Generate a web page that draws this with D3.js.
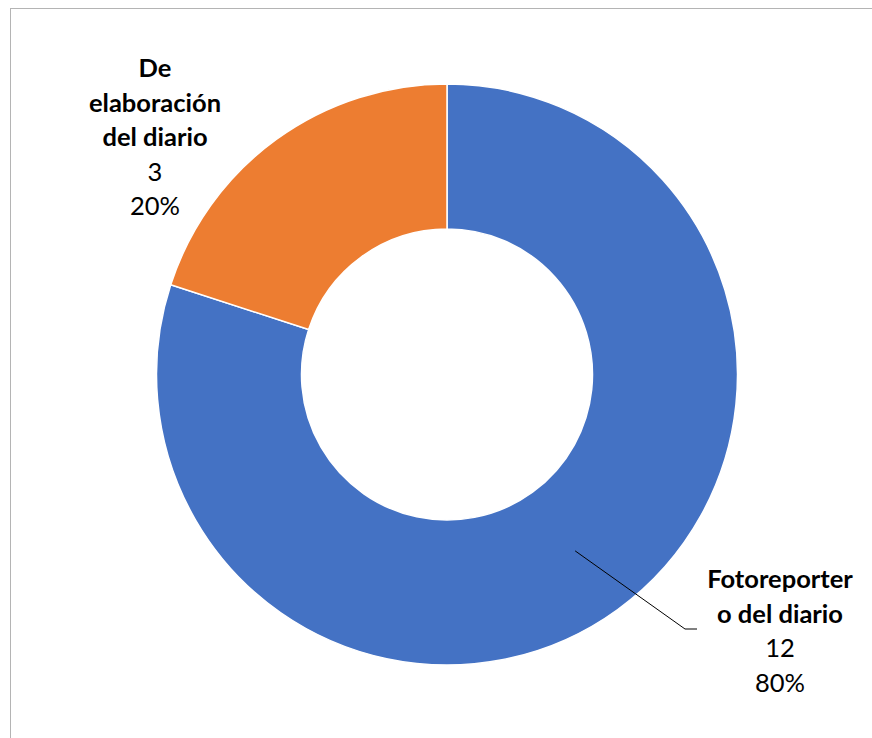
<!DOCTYPE html>
<html>
<head>
<meta charset="utf-8">
<script src="https://cdn.jsdelivr.net/npm/d3@7"></script>
<style>
  html, body { margin: 0; padding: 0; background: #fff; }
  svg { display: block; }
</style>
</head>
<body>
<svg id="chart" width="872" height="738"></svg>
<script>
// Origen de las fotografías
const categories = ["Fotoreporter\no del diario", "De\nelaboración\ndel diario"];
const values = [12, 3];
const colors = ["#4472C4", "#ED7D31"];

const W = 872, H = 738;
const cx = 447, cy = 374.5;
const outerR = 290.5, innerR = 145.5;
const fontFamily = "Lato, 'Open Sans', 'Liberation Sans', sans-serif";
const fontSize = 25.5;
const lineH = 34.5;

const svg = d3.select("#chart");

// chart area frame
svg.append("rect")
  .attr("x", 10.5).attr("y", 8.5)
  .attr("width", W + 20).attr("height", H + 20)
  .attr("fill", "none")
  .attr("stroke", "#b4b4b4")
  .attr("stroke-width", 1);

const data = categories.map((c, i) => ({ name: c, value: values[i], color: colors[i] }));
const total = d3.sum(values);

const pie = d3.pie().value(d => d.value).sort(null);
const arc = d3.arc().innerRadius(innerR).outerRadius(outerR);
const arcs = pie(data);

const g = svg.append("g").attr("transform", `translate(${cx},${cy})`);

g.selectAll("path.slice")
  .data(arcs)
  .join("path")
  .attr("class", "slice")
  .attr("d", arc)
  .attr("fill", d => d.data.color)
  .attr("stroke", "#fff")
  .attr("stroke-width", 1.5);

// label placement per slice (label anchor in page coords, first baseline)
const labelPos = [
  { x: 780, y: 588, leader: [[685, 629], [697, 629]] },
  { x: 155, y: 77, leader: null }
];

arcs.forEach((a, i) => {
  const p = labelPos[i];
  const lines = a.data.name.split("\n");
  const pct = d3.format(".0%")(a.data.value / total);
  const t = svg.append("text")
    .attr("text-anchor", "middle")
    .attr("font-family", fontFamily)
    .attr("font-size", fontSize)
    .attr("fill", "#000");
  lines.forEach((ln, k) => {
    t.append("tspan").attr("x", p.x).attr("y", p.y + k * lineH)
      .attr("font-weight", "bold").text(ln);
  });
  t.append("tspan").attr("x", p.x).attr("y", p.y + lines.length * lineH).text(a.data.value);
  t.append("tspan").attr("x", p.x).attr("y", p.y + (lines.length + 1) * lineH).text(pct);

  if (p.leader) {
    // leader from the slice centroid to the label
    const [mx, my] = arc.centroid(a);
    const pts = [[cx + mx, cy + my], ...p.leader];
    svg.append("polyline")
      .attr("points", pts.map(q => q.join(",")).join(" "))
      .attr("fill", "none")
      .attr("stroke", "#000")
      .attr("stroke-width", 1);
  }
});
</script>
</body>
</html>
